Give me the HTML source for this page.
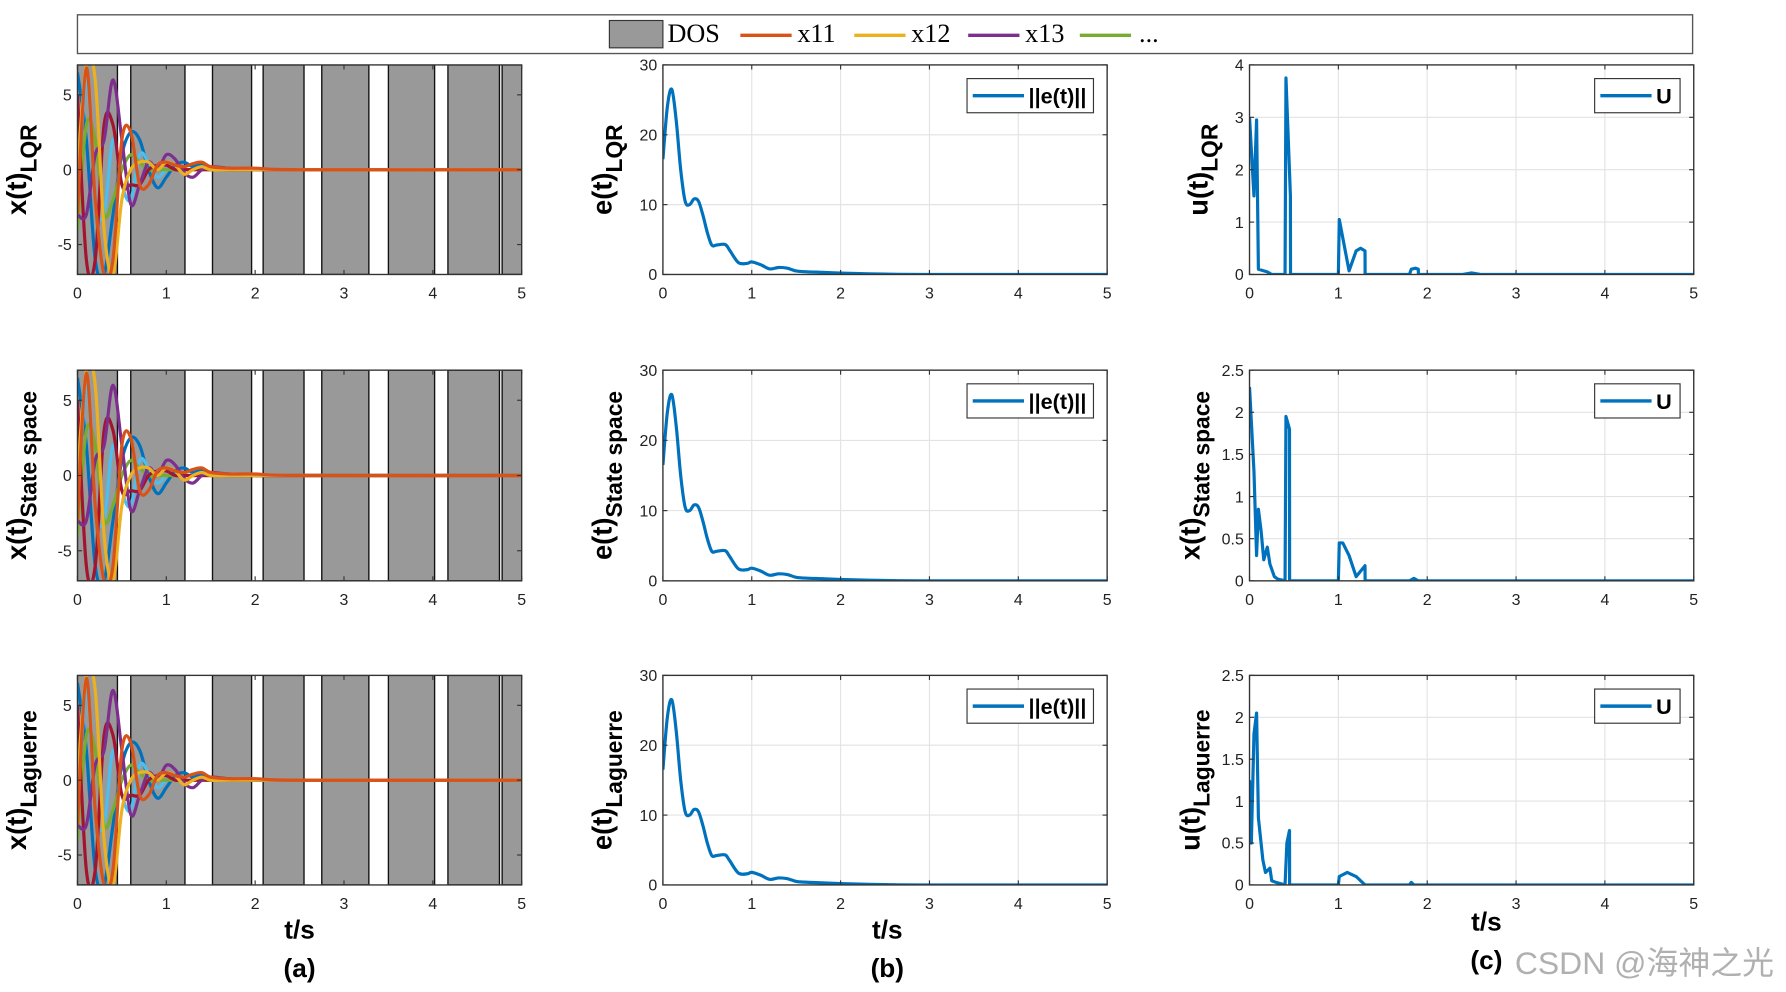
<!DOCTYPE html>
<html><head><meta charset="utf-8"><style>
html,body{margin:0;padding:0;background:#fff;width:1786px;height:992px;overflow:hidden}
svg{display:block}
text{font-family:"Liberation Sans",Arial,sans-serif}
</style></head><body>
<svg id="fig" width="1786" height="992" viewBox="0 0 1568 871" preserveAspectRatio="none" xmlns="http://www.w3.org/2000/svg">
<g>
<rect x="68" y="13" width="1418" height="34" fill="#fff" stroke="#555" stroke-width="1.2"/>
<rect x="535" y="18" width="47" height="24" fill="#999" stroke="#333" stroke-width="1"/>
<text x="586" y="37" font-size="23" style="font-family:'Liberation Serif',serif">DOS</text>
<line x1="650" y1="31" x2="695" y2="31" stroke="#D95319" stroke-width="3"/>
<text x="700" y="37" font-size="23" style="font-family:'Liberation Serif',serif">x11</text>
<line x1="750" y1="31" x2="795" y2="31" stroke="#EDB120" stroke-width="3"/>
<text x="800" y="37" font-size="23" style="font-family:'Liberation Serif',serif">x12</text>
<line x1="850" y1="31" x2="895" y2="31" stroke="#7E2F8E" stroke-width="3"/>
<text x="900" y="37" font-size="23" style="font-family:'Liberation Serif',serif">x13</text>
<line x1="948" y1="31" x2="993" y2="31" stroke="#77AC30" stroke-width="3"/>
<text x="1000" y="37" font-size="23" style="font-family:'Liberation Serif',serif">...</text>
</g>
<g id="plots"></g>
<g font-weight="bold" font-size="23" text-anchor="middle">
<text x="263" y="824">t/s</text><text x="779" y="824">t/s</text><text x="1305" y="817">t/s</text>
<text x="263" y="858">(a)</text><text x="779" y="858">(b)</text><text x="1305" y="851">(c)</text>
</g>
<text x="1330" y="855" font-size="28" fill="#b0b0b0" style="font-family:'Liberation Sans','Noto Sans CJK SC',sans-serif">CSDN @海神之光</text>
</svg>
<script>
const tTicks=[0,1,2,3,4,5];
const dosBands=[[0,0.45],[0.6,1.21],[1.52,1.96],[2.09,2.55],[2.75,3.28],[3.5,4.02],[4.17,4.75],[4.78,5]];
const stateTimes=[0,0.1,0.2,0.3,0.4,0.5,0.6,0.7,0.8,0.9,1.0,1.1,1.2,1.3,1.4,1.5,1.7,2.0,2.5,5];
const sBlue=[6.5,2,-6,-7,-3,1,2.5,2,0,-1.2,-0.5,0.3,0.5,0.2,0.4,0.1,0.1,0,0,0];
const sCyan=[-3,6,-2,-3,2,-1,-2,1,0.5,-0.5,0,0,0,0,0,0,0,0,0,0];
const sGreen=[-4,3,2,-3,-2,0,1,0.5,0,0,0,0,0,0,0,0,0,0,0,0];
const sRed=[5,-6,-6,3,3,-1,-1,-1,0,0.3,0.3,0,0,0,0,0,0,0,0,0];
const sPurple=[-3,-3,1,2,6,2,-2.3,-1,0.5,0,1,0.7,-0.2,-0.5,0,0.2,0.1,0,0,0];
const sYellow=[0,7,6,-4,-7,-2,0,0.5,0.5,0,0.5,0.3,-0.3,0,0.2,0,0,0,0,0];
const sOrange=[-3,6.8,-2,-7,-6,2,2.5,-1,-1,0.3,0.5,0.3,0.2,0.4,0.5,0.2,0.1,0.1,0,0];
const stateSeries=[sBlue,sCyan,sGreen,sRed,sPurple,sYellow,sOrange];
const stateColors=['#0072BD','#4DBEEE','#77AC30','#A2142F','#7E2F8E','#EDB120','#D95319'];
const eTimes=[0,0.05,0.1,0.15,0.2,0.25,0.3,0.35,0.4,0.45,0.5,0.55,0.6,0.7,0.75,0.85,0.95,1.0,1.1,1.2,1.3,1.4,1.5,1.6,1.8,2,2.5,3,5];
const eVals=[16.5,24,26.5,22,15,10.5,10,10.8,10.5,8.5,6,4.2,4.2,4.3,3.5,1.7,1.6,1.8,1.4,0.8,1.0,0.9,0.5,0.4,0.3,0.2,0.05,0,0];
const u1T=[0,0.05,0.08,0.1,0.2,0.25,0.4,0.41,0.46,0.461,1.0,1.01,1.12,1.2,1.25,1.3,1.301,1.8,1.82,1.87,1.9,1.901,2.4,2.5,2.6,5];
const u1V=[3,1.5,2.95,0.1,0.05,0,0,3.75,1.5,0,0,1.05,0.07,0.45,0.5,0.45,0,0,0.1,0.12,0.1,0,0,0.03,0,0];
const u2T=[0,0.05,0.08,0.1,0.13,0.16,0.2,0.23,0.28,0.32,0.4,0.41,0.45,0.451,1.0,1.01,1.05,1.12,1.2,1.3,1.301,1.8,1.85,1.9,5];
const u2V=[2.3,1.3,0.3,0.85,0.6,0.25,0.4,0.2,0.05,0.02,0,1.95,1.8,0,0,0.45,0.45,0.3,0.05,0.18,0,0,0.03,0,0];
const u3T=[0,0.02,0.05,0.08,0.1,0.15,0.18,0.23,0.25,0.3,0.4,0.42,0.45,0.451,1,1.01,1.1,1.2,1.3,1.8,1.82,1.85,5];
const u3V=[1.25,0.5,1.8,2.05,0.8,0.3,0.15,0.2,0.05,0.03,0,0.5,0.65,0,0,0.1,0.15,0.1,0,0,0.03,0,0];

const NS='http://www.w3.org/2000/svg';
const root=document.getElementById('plots');
function mk(tag,attrs,parent){const e=document.createElementNS(NS,tag);for(const k in attrs)e.setAttribute(k,attrs[k]);(parent||root).appendChild(e);return e;}
const cols=[68,582,1097],W=390;
const rows=[[57,241],[325,510],[593,777]];
let clipId=0;
function axes(x0,y0,y1,ymin,ymax,yticks,ylabel,sub,grid,name,lxOff){
  const g=mk('g',{});
  
  
  const sx=t=>x0+t/5*W, sy=v=>y1-(v-ymin)/(ymax-ymin)*(y1-y0);
  mk('rect',{x:x0,y:y0,width:W,height:y1-y0,fill:'#fff'},g);
  const cid='c'+(clipId++);
  const cp=mk('clipPath',{id:cid},g);mk('rect',{x:x0,y:y0,width:W,height:y1-y0},cp);
  if(grid){
    tTicks.forEach(t=>mk('line',{x1:sx(t),x2:sx(t),y1:y0,y2:y1,stroke:'#e3e3e3','stroke-width':1},g));
    yticks.forEach(v=>mk('line',{x1:x0,x2:x0+W,y1:sy(v),y2:sy(v),stroke:'#e3e3e3','stroke-width':1},g));
  }
  const inner=mk('g',{'clip-path':'url(#'+cid+')'},g);
  tTicks.forEach(t=>{const tx=mk('text',{x:sx(t),y:y1+21,'font-size':14,'text-anchor':'middle',fill:'#222'},g);tx.textContent=t;
    mk('line',{x1:sx(t),x2:sx(t),y1:y1,y2:y1-4,stroke:'#333'},g);mk('line',{x1:sx(t),x2:sx(t),y1:y0,y2:y0+4,stroke:'#333'},g);});
  yticks.forEach(v=>{const tx=mk('text',{x:x0-5,y:sy(v)+5,'font-size':14,'text-anchor':'end',fill:'#222'},g);tx.textContent=v;
    mk('line',{x1:x0,x2:x0+4,y1:sy(v),y2:sy(v),stroke:'#333'},g);mk('line',{x1:x0+W,x2:x0+W-4,y1:sy(v),y2:sy(v),stroke:'#333'},g);});
  const cy=(y0+y1)/2, lx=x0-lxOff;
  const yl=mk('text',{x:0,y:0,'font-size':24,'font-weight':'bold','text-anchor':'middle',transform:`translate(${lx},${cy}) rotate(-90)`},g);
  
  
  yl.innerHTML=ylabel+'<tspan dy="9" font-size="20">'+sub+'</tspan>';
  return {g,inner,sx,sy,frame:()=>mk('rect',{x:x0,y:y0,width:W,height:y1-y0,fill:'none',stroke:'#333','stroke-width':1.2},g)};
}
function line(ax,T,V,color,w,name){
  let d='';T.forEach((t,i)=>{d+=(i?'L':'M')+ax.sx(t).toFixed(1)+' '+ax.sy(V[i]).toFixed(1);});
  const p=mk('path',{d,fill:'none',stroke:color,'stroke-width':w,'stroke-linejoin':'round'},ax.inner);
  
  
}
function smooth(ax,T,V,color,w,name){
  const P=T.map((t,i)=>[ax.sx(t),ax.sy(V[i])]);
  let d='M'+P[0][0]+' '+P[0][1];
  for(let i=0;i<P.length-1;i++){const p0=P[Math.max(0,i-1)],p1=P[i],p2=P[i+1],p3=P[Math.min(P.length-1,i+2)];
    d+=`C${p1[0]+(p2[0]-p0[0])/6} ${p1[1]+(p2[1]-p0[1])/6} ${p2[0]-(p3[0]-p1[0])/6} ${p2[1]-(p3[1]-p1[1])/6} ${p2[0]} ${p2[1]}`;}
  const p=mk('path',{d,fill:'none',stroke:color,'stroke-width':w},ax.inner);
  
  
}
function legend(ax,x,y,w,label){
  const g=mk('g',{},ax.g);
  
  
  mk('rect',{x,y,width:w,height:30,fill:'#fff',stroke:'#333','stroke-width':1},g);
  mk('line',{x1:x+5,x2:x+50,y1:y+15,y2:y+15,stroke:'#0072BD','stroke-width':3},g);
  const t=mk('text',{x:x+54,y:y+22,'font-size':19,'font-weight':'bold'},g);t.textContent=label;
}
const labels=[['x(t)','LQR','e(t)','LQR','u(t)','LQR'],['x(t)','State space','e(t)','State space','x(t)','State space'],['x(t)','Laguerre','e(t)','Laguerre','u(t)','Laguerre']];
const uData=[[u1T,u1V,4,[0,1,2,3,4]],[u2T,u2V,2.5,[0,0.5,1,1.5,2,2.5]],[u3T,u3V,2.5,[0,0.5,1,1.5,2,2.5]]];
rows.forEach((r,ri)=>{
  const [y0,y1]=r;
  const a=axes(cols[0],y0,y1,-7,7,[-5,0,5],labels[ri][0],labels[ri][1],false,'state-plot-'+(ri+1),45);
  dosBands.forEach(b=>{const rc=mk('rect',{x:a.sx(b[0]),y:y0,width:a.sx(b[1])-a.sx(b[0]),height:y1-y0,fill:'#999',stroke:'#111','stroke-width':1.2},a.inner);
    
    });
  stateSeries.forEach((s,i)=>smooth(a,stateTimes,s,stateColors[i],2.8,'state-series-'+(i+1)));
  a.frame();
  const b=axes(cols[1],y0,y1,0,30,[0,10,20,30],labels[ri][2],labels[ri][3],true,'error-plot-'+(ri+1),45);
  smooth(b,eTimes,eVals,'#0072BD',2.8,'error-norm-line');
  b.frame();legend(b,849,y0+12,111,'||e(t)||');
  const u=uData[ri];
  const c=axes(cols[2],y0,y1,0,u[2],u[3],labels[ri][4],labels[ri][5],true,'control-plot-'+(ri+1),ri==0?37:44);
  line(c,u[0],u[1],'#0072BD',2.8,'control-line');
  c.frame();legend(c,1400,y0+12,75,'U');
});
</script>
</body></html>
